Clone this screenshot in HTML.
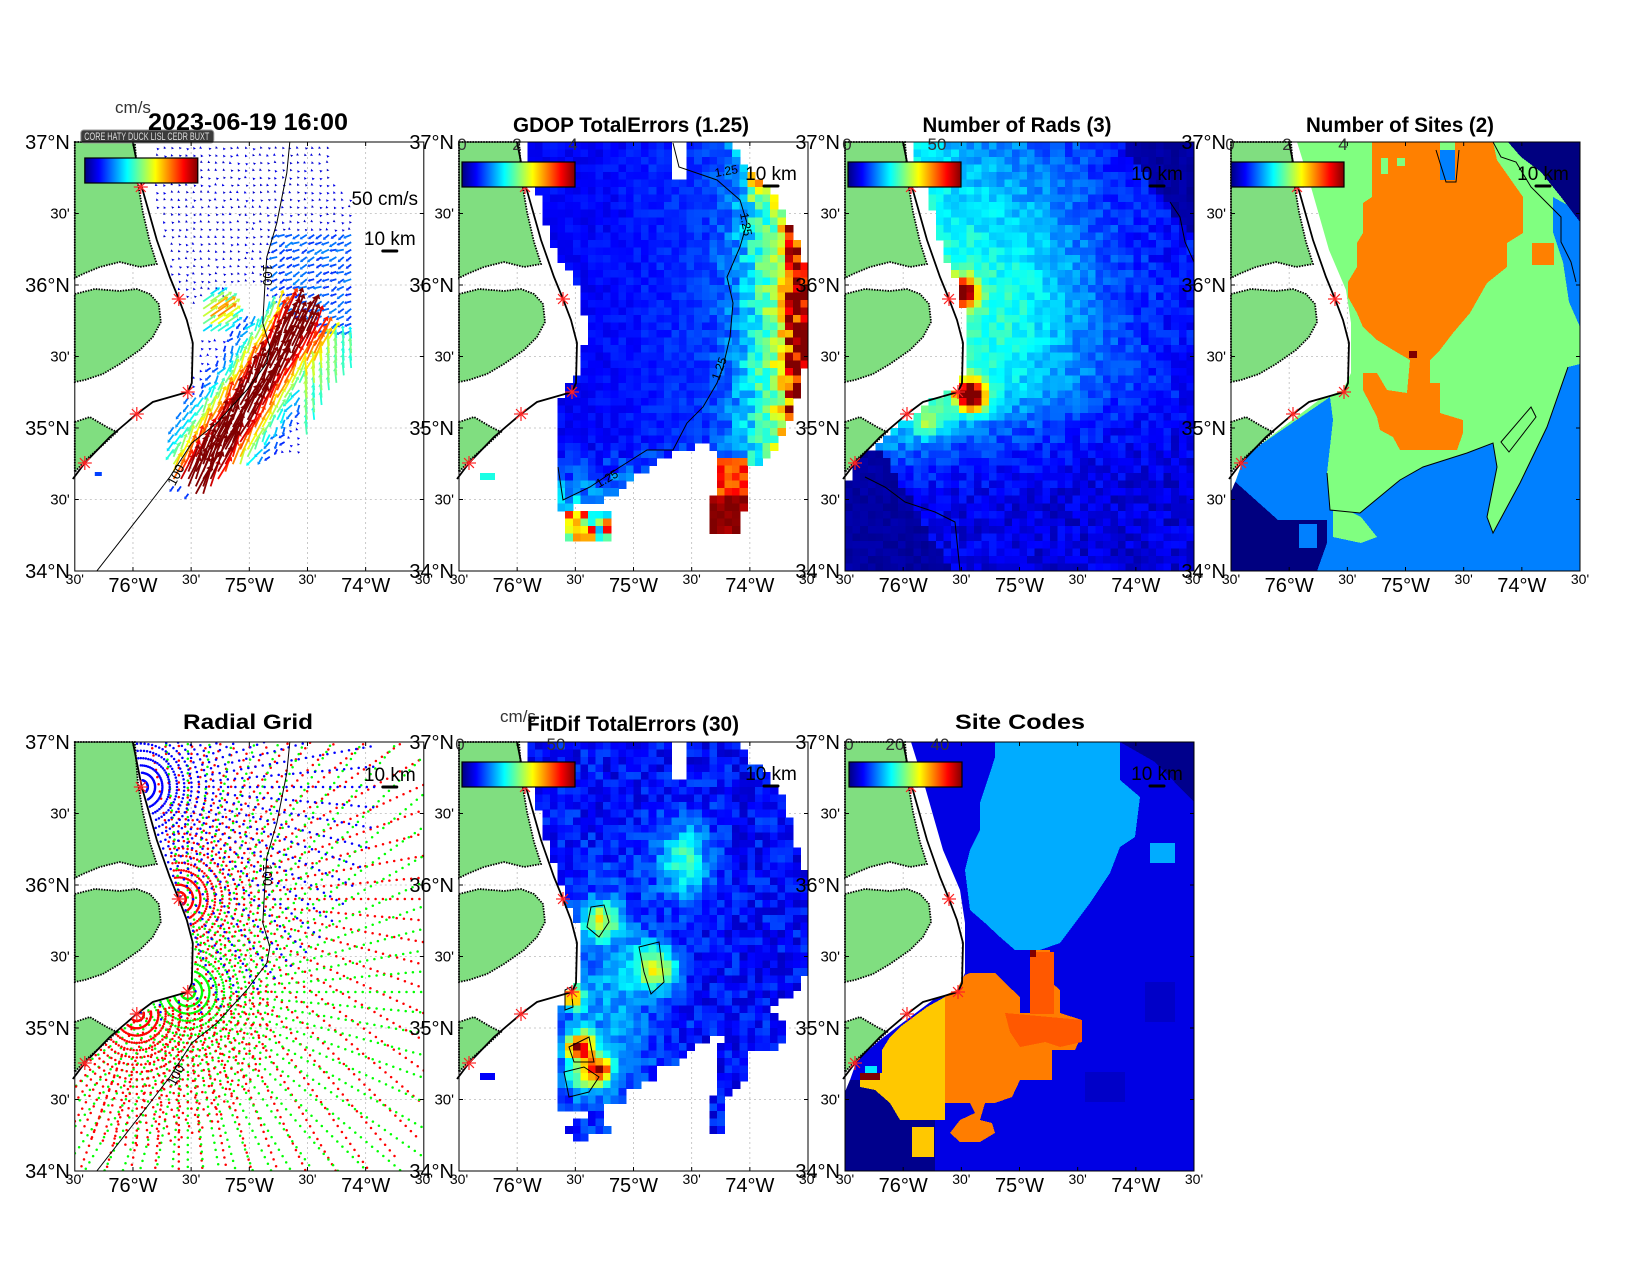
<!DOCTYPE html>
<html><head><meta charset="utf-8"><style>body{margin:0;background:#fff}svg{display:block}</style></head>
<body>
<svg id="s" width="1650" height="1275" xmlns="http://www.w3.org/2000/svg" font-family="Liberation Sans, Arial, sans-serif"></svg>
<script>
const W=349,H=429;
function cl(v){return v<0?0:v>1?1:v}
function jet(t){t=cl(t);const r=cl(Math.min(4*t-1.5,-4*t+4.5)),g=cl(Math.min(4*t-0.5,-4*t+3.5)),b=cl(Math.min(4*t+0.5,-4*t+2.5));return 'rgb('+Math.round(r*255)+','+Math.round(g*255)+','+Math.round(b*255)+')'}
function pip(x,y,P){let c=false;for(let i=0,j=P.length-1;i<P.length;j=i++){const xi=P[i][0],yi=P[i][1],xj=P[j][0],yj=P[j][1];if(((yi>y)!=(yj>y))&&(x<(xj-xi)*(y-yi)/(yj-yi)+xi))c=!c}return c}
function interp(L,y){if(y<=L[0][1])return L[0][0];for(let i=0;i<L.length-1;i++){const a=L[i],b=L[i+1];if(y>=a[1]&&y<=b[1])return a[0]+(b[0]-a[0])*(y-a[1])/((b[1]-a[1])||1)}return L[L.length-1][0]}
function rnd(i,j,k){let h=Math.sin(i*127.1+j*311.7+k*74.7)*43758.5453;return h-Math.floor(h)}
const pts=P=>P.map(p=>p[0].toFixed(1)+','+p[1].toFixed(1)).join(' ');
const L=[[66,0],[80,45],[98,108],[115,148],[120,181],[120,231],[112,248],[88,258],[52,285],[35,298],[12,318],[5,338],[0,350],[0,429]];
const SEA=L.concat([[349,429],[349,0]]);
const C=[[58,0],[67,45],[82,98],[95,135],[104,157],[112,178],[118,201],[117,241],[113,250],[78,260],[62,272],[35,295],[10,321],[-2,337]];
const C100=[[215,0],[212,31],[202,81],[192,115],[190,145],[188,181],[195,205],[192,221],[172,248],[142,281],[117,301],[95,335],[72,365],[22,429]];
const LAND=[
[[0,0],[60,0],[63,40],[68,70],[75,100],[82,122],[65,125],[45,120],[25,125],[8,132],[0,136]],
[[0,152],[20,147],[45,149],[62,147],[75,152],[84,162],[86,180],[78,195],[65,208],[45,222],[28,232],[10,238],[0,240]],
[[0,280],[15,275],[32,285],[42,290],[28,303],[12,317],[0,330]]];
const STARS=[[66,45],[104,157],[113,250],[62,272],[10,321]];
const PAN=[[74.8,142],[459,142],[845,142],[1231,142],[74.8,742],[459,742],[845,742]];
let o='<defs><clipPath id="c"><rect width="349" height="429"/></clipPath><clipPath id="sea"><polygon points="'+pts(SEA)+'"/></clipPath><linearGradient id="jg">';
for(let i=0;i<=16;i++)o+='<stop offset="'+(i/16)+'" stop-color="'+jet(i/16)+'"/>';
o+='</linearGradient></defs>';
const NX=46,NY=57,cw=W/NX,ch=H/NY;
function heat(fn,range){let s='';for(let i=0;i<NX;i++)for(let j=0;j<NY;j++){const x=(i+.5)*cw,y=(j+.5)*ch;const v=fn(x,y,i,j);if(v==null)continue;s+='<rect x="'+(i*cw).toFixed(1)+'" y="'+(j*ch).toFixed(1)+'" width="'+(cw+.6).toFixed(1)+'" height="'+(ch+.6).toFixed(1)+'" fill="'+jet(v/range)+'"/>'}return '<g shape-rendering="crispEdges">'+s+'</g>'}
function grid(){let s='<g stroke="#bbb" stroke-width="0.8" stroke-dasharray="2,3">';for(let k=1;k<6;k++){s+='<line x1="0" x2="349" y1="'+(71.5*k)+'" y2="'+(71.5*k)+'"/><line y1="0" y2="429" x1="'+(58.17*k)+'" x2="'+(58.17*k)+'"/>'}return s+'</g>'}
function land(){let s='';LAND.forEach(P=>{s+='<polygon points="'+pts(P)+'" fill="#80de80" stroke="#000" stroke-width="1.8" stroke-dasharray="1.5,1.2"/>'});s+='<polyline points="'+pts(C)+'" fill="none" stroke="#000" stroke-width="1.8"/>';return s}
function stars(){let s='<g stroke="#f22" stroke-width="1.2">';STARS.forEach(([x,y])=>{for(let a=0;a<4;a++){const t=a*Math.PI/4,dx=7*Math.cos(t),dy=7*Math.sin(t);s+='<line x1="'+(x-dx)+'" y1="'+(y-dy)+'" x2="'+(x+dx)+'" y2="'+(y+dy)+'"/>'}});return s+'</g>'}
function cbar(x,y,ticks){let s='<rect x="'+x+'" y="'+y+'" width="113" height="25" fill="url(#jg)" stroke="#000" stroke-width="1.2"/>';ticks.forEach(t=>{s+='<text x="'+t[1]+'" y="8" font-size="17" fill="#333" text-anchor="middle">'+t[0]+'</text>'});return s}
function km(tx,ty){return '<text x="'+tx+'" y="'+ty+'" font-size="19" text-anchor="middle">10 km</text><line x1="'+(tx-7)+'" x2="'+(tx+7)+'" y1="'+(ty+6)+'" y2="'+(ty+6)+'" stroke="#000" stroke-width="3" stroke-linecap="round"/>'}
function axes(){let s='<rect width="349" height="429" fill="none" stroke="#000" stroke-width="1"/><g stroke="#000" stroke-width="1">';
for(let k=1;k<6;k++){const a=71.5*k,b=58.17*k;s+='<line x1="0" x2="4" y1="'+a+'" y2="'+a+'"/><line x1="345" x2="349" y1="'+a+'" y2="'+a+'"/><line y1="425" y2="429" x1="'+b+'" x2="'+b+'"/><line y1="0" y2="4" x1="'+b+'" x2="'+b+'"/>'}
s+='</g>';const lat=['37°N','36°N','35°N','34°N'],lon=['76°W','75°W','74°W'];
for(let k=0;k<=6;k++){const y=71.5*k;if(k%2==0)s+='<text x="-5" y="'+(y+7)+'" font-size="20" text-anchor="end">'+lat[k/2]+'</text>';else s+='<text x="-5" y="'+(y+5)+'" font-size="15" text-anchor="end">30\'</text>';
const x=58.17*k;if(k%2==1)s+='<text x="'+x+'" y="450" font-size="20" text-anchor="middle">'+lon[(k-1)/2]+'</text>';else s+='<text x="'+x+'" y="442" font-size="14" text-anchor="middle">30\'</text>'}
return s}
function title(x,y,w,t,fs){return '<text x="'+x+'" y="'+y+'" font-size="'+(fs||21)+'" font-weight="bold" text-anchor="middle" textLength="'+w+'" lengthAdjust="spacingAndGlyphs">'+t+'</text>'}
function contour(P){return '<polyline points="'+pts(P)+'" fill="none" stroke="#000" stroke-width="1"/>'}
const sea=(x,y)=>x>=interp(L,y);

// ---------- Panel 1: vectors
(function(){const[x0,y0]=PAN[0];let s='<g transform="translate('+x0+','+y0+')">'+grid()+'<g clip-path="url(#c)">';
const R=[[82,1],[258,1],[258,38],[278,51],[278,128],[283,148],[283,221],[265,241],[245,268],[225,308],[158,325],[125,355],[95,348],[98,281],[118,248],[125,205],[125,165],[100,140],[92,100],[80,50]];
const ax=125,ay=335,bx=222,by=185,dx=bx-ax,dy=by-ay,Lb=Math.hypot(dx,dy),ux=dx/Lb,uy=dy/Lb,ba=Math.atan2(uy,ux);
let arr=[];
for(let x=84;x<290;x+=7.4)for(let y=4;y<360;y+=7.4){if(!pip(x,y,R))continue;if(x>158&&x<195&&y>138&&y<172)continue;
const t=((x-ax)*ux+(y-ay)*uy)/Lb,d=Math.abs((x-ax)*(-uy)+(y-ay)*ux);let core=Math.exp(-d*d/(2*22*22))*(t>-0.1&&t<1.05?1:0);
let c2=Math.exp(-((x-140)**2+(y-172)**2)/(2*14*14));
let s0=5+rnd(x,y,1)*4,a0=Math.PI*(0.55+rnd(x,y,2)*0.3);
if(x>200&&y>90&&y<200){s0=14+rnd(x,y,3)*8;a0=Math.PI*(0.75+rnd(x,y,4)*0.2)}
if(x>225&&y>195){s0=30+rnd(x,y,5)*12;a0=-Math.PI/2-0.1}
if(y>250&&x<130){s0=15;a0=Math.PI*0.7}
let sp=s0*(1-core)+95*core,an=core>0.3?ba-0.15+(rnd(x,y,6)-.5)*0.3:a0;
if(c2>0.3){sp=Math.max(sp,55*c2+10);an=-0.6}
arr.push([x,y,sp,an])}
arr.sort((a,b)=>a[2]-b[2]);
arr.forEach(([x,y,sp,an])=>{const len=Math.max(1.5,sp*0.3),ex=x+Math.cos(an)*len,ey=y+Math.sin(an)*len,col=jet(sp/85),hs=Math.min(4.5,2+len*0.1);
const hx=Math.cos(an),hy=Math.sin(an);
if(len>4)s+='<line x1="'+x.toFixed(1)+'" y1="'+y.toFixed(1)+'" x2="'+ex.toFixed(1)+'" y2="'+ey.toFixed(1)+'" stroke="'+col+'" stroke-width="1.8"/>';
s+='<polygon points="'+(ex+hx*hs).toFixed(1)+','+(ey+hy*hs).toFixed(1)+' '+(ex-hy*hs*0.7).toFixed(1)+','+(ey+hx*hs*0.7).toFixed(1)+' '+(ex+hy*hs*0.7).toFixed(1)+','+(ey-hx*hs*0.7).toFixed(1)+'" fill="'+col+'"/>'});
s+='<rect x="20" y="330" width="7" height="4" fill="#0040ff"/>';
s+=contour(C100)+'</g>'+land()+stars()+'<text transform="translate(188,133) rotate(90)" font-size="13" text-anchor="middle">100</text><text transform="translate(105,335) rotate(-62)" font-size="13" text-anchor="middle">100</text>';
s+=cbar(10,16,[])+'<rect x="6" y="-12" width="133" height="13" rx="3" fill="#3c3c3c" stroke="#999"/><text x="72" y="-2" font-size="11" fill="#ddd" text-anchor="middle" textLength="125" lengthAdjust="spacingAndGlyphs">CORE HATY DUCK LISL CEDR BUXT</text>';
s+='<text x="310" y="63" font-size="19" text-anchor="middle">50 cm/s</text>'+km(315,103)+axes()+'</g>';
s+='<text x="133" y="113" font-size="17" fill="#333" text-anchor="middle">cm/s</text>'+title(248,130,200,'2023-06-19 16:00',24);o+=s})();

// ---------- Panel 2: GDOP
(function(){const[x0,y0]=PAN[1];let s='<g transform="translate('+x0+','+y0+')">'+grid()+'<g clip-path="url(#c)">';
const M=[[68,0],[211,0],[211,36],[228,36],[228,0],[264,0],[273,6],[289,25],[314,48],[328,75],[343,105],[346,125],[346,221],[341,248],[334,268],[318,308],[298,321],[281,325],[244,301],[208,315],[168,341],[158,355],[128,361],[98,368],[98,321],[98,278],[104,248],[118,235],[128,188],[121,148],[108,128],[91,95],[81,55],[71,28]];
const T=[[258,318],[288,318],[288,360],[277,395],[255,395],[248,375],[258,340]];
const I=[[108,371],[148,371],[148,398],[108,398]];
s+=heat((x,y,i,j)=>{const n=rnd(i,j,9)-.5;if(pip(x,y,T))return 3.3+(y>355?0.7:0)+n*0.6;if(pip(x,y,I))return 2.4+n*2.5;if(!pip(x,y,M))return null;
const a=(x-240)/105,b=(y-290)/75;const c=Math.max(a,b*0.6,0);const edge=(x>330||(y<60&&x>290))?0.8:0;return 0.5+0.3*cl((x-140)/150)+2.6*Math.pow(c,2)+edge*(1+n)+n*0.25*(1+c*4)},4);
s+='<rect x="21" y="331" width="15" height="7" fill="'+jet(0.4)+'"/>';
s+=contour([[214,1],[220,25],[258,38],[281,58],[288,81],[281,105],[268,135],[274,161],[271,195],[264,225],[258,241],[244,265],[228,281],[214,308],[188,308],[161,325],[131,345],[104,358],[99,325]])+'</g>'+land()+stars();
s+='<text transform="translate(268,33) rotate(-10)" font-size="12" text-anchor="middle">1.25</text><text transform="translate(283,83) rotate(80)" font-size="12" text-anchor="middle">1.25</text><text transform="translate(264,228) rotate(-70)" font-size="12" text-anchor="middle">1.25</text><text transform="translate(150,340) rotate(-30)" font-size="12" text-anchor="middle">1.25</text>';
s+=cbar(3,20,[['0',3],['2',58],['4',114]])+km(312,38)+axes()+'</g>'+title(631,132,236,'GDOP TotalErrors (1.25)');o+=s})();

// ---------- Panel 3: Number of rads
(function(){const[x0,y0]=PAN[2];let s='<g transform="translate('+x0+','+y0+')">'+grid()+'<g clip-path="url(#c)">';
s+=heat((x,y,i,j)=>{if(!sea(x,y))return null;const n=rnd(i,j,3)-.5;const d=x-interp(L,y);
if(y>300&&x<30+(y-300)*0.6)return 2+n*2;if(x>275&&y<(x-275)*1.3)return 2+n*2;
const g=y<270?1:Math.max(0.15,1-(y-270)/110);let v=5+17*Math.exp(-d/140)*g;
v+=7*Math.exp(-((x-175)**2/(2*55*55)+(y-150)**2/(2*90*90)))*g;
v+=45*Math.exp(-((x-118)**2+(y-150)**2)/(2*10*10))+50*Math.exp(-((x-126)**2+(y-254)**2)/(2*11*11))+15*Math.exp(-((x-84)**2+(y-280)**2)/(2*11*11));
return v+n*6},60);
s+='<polyline points="325,60 335,75 340,100 349,120" fill="none" stroke="#000"/><polyline points="20,335 40,345 60,360 90,370 110,380 115,429" fill="none" stroke="#000"/></g>'+land()+stars()+cbar(3,20,[['0',2],['50',92]])+km(312,38)+axes()+'</g>'+title(1017,132,189,'Number of Rads (3)');o+=s})();

// ---------- Panel 4: Number of sites
(function(){const[x0,y0]=PAN[3];let s='<g transform="translate('+x0+','+y0+')">'+grid()+'<g clip-path="url(#c)"><g clip-path="url(#sea)" shape-rendering="crispEdges">';
const G='rgb(128,255,128)',Or='rgb(255,128,0)',B='rgb(0,128,255)',N='rgb(0,0,128)';
s+='<rect width="349" height="429" fill="'+G+'"/>';
s+='<polygon fill="'+B+'" points="'+pts([[0,340],[0,300],[32,301],[99,255],[102,278],[96,331],[99,368],[129,371],[169,338],[192,325],[236,311],[262,301],[266,325],[256,375],[262,391],[289,341],[316,285],[337,225],[349,222],[349,429],[0,429]])+'"/>';
s+='<polygon fill="'+G+'" points="'+pts([[102,361],[130,375],[146,395],[130,401],[102,395]])+'"/>';
s+='<polygon fill="'+B+'" points="'+pts([[322,55],[349,70],[349,185],[338,160],[332,120],[322,90]])+'"/>';
s+='<polygon fill="'+N+'" points="'+pts([[277,0],[349,0],[349,80],[330,55],[310,30],[290,15]])+'"/>';
s+='<polygon fill="'+N+'" points="'+pts([[0,336],[47,378],[96,378],[96,401],[86,429],[0,429]])+'"/>';
s+='<rect x="68" y="382" width="18" height="24" fill="'+B+'"/>';
s+='<polygon fill="'+Or+'" points="'+pts([[141,0],[209,0],[209,8],[224,8],[224,0],[262,0],[266,18],[292,55],[292,91],[276,101],[276,125],[256,141],[239,171],[222,191],[209,208],[199,218],[199,241],[209,241],[209,271],[232,278],[232,291],[226,308],[169,308],[162,295],[149,288],[146,275],[132,248],[132,231],[146,231],[156,248],[176,251],[179,218],[162,208],[146,198],[132,185],[126,171],[117,155],[117,140],[126,125],[126,101],[132,91],[132,61],[141,55]])+'"/>';
s+='<rect x="209" y="8" width="15" height="30" fill="'+B+'"/><rect x="301" y="101" width="22" height="22" fill="'+Or+'"/><rect x="178" y="209" width="8" height="7" fill="rgb(128,0,0)"/>';
s+='<rect x="166" y="16" width="8" height="8" fill="'+G+'"/><rect x="150" y="16" width="7" height="16" fill="'+G+'"/>';
s+='</g><polyline points="205,8 215,40 225,40 228,8" fill="none" stroke="#000"/><polyline points="262,0 270,15 285,20 300,45 315,60 330,75 330,100 340,120 345,140" fill="none" stroke="#000"/><polyline points="96,331 99,368 129,371 169,338 192,325 236,311 262,301 266,325 256,375 262,391 289,341 316,285 337,225" fill="none" stroke="#000"/><polygon points="270,300 300,265 305,275 278,310" fill="none" stroke="#000"/></g>';
s+=land()+stars()+cbar(0,20,[['0',-1],['2',56],['4',112]])+km(312,38)+axes()+'</g>'+title(1400,132,188,'Number of Sites (2)');o+=s})();

// ---------- Panel 5: Radial grid
(function(){const[x0,y0]=PAN[4];let s='<g transform="translate('+x0+','+y0+')">'+grid()+'<g clip-path="url(#c)">';
const sites=[[STARS[1],'#f00',-100,110,340],[STARS[2],'#0f0',-95,175,340],[STARS[0],'#00f',-110,100,235],[STARS[3],'#f00',-10,170,135]];
sites.forEach(([p,col,a1,a2,rm])=>{s+='<g fill="'+col+'">';for(let r=7;r<=rm;r+=7.3)for(let a=a1;a<=a2;a+=5){const t=a*Math.PI/180,x=p[0]+r*Math.cos(t),y=p[1]+r*Math.sin(t);if(x<0||x>349||y<0||y>429)continue;if(y<337&&x<interp(C,y)+2)continue;s+='<circle cx="'+x.toFixed(1)+'" cy="'+y.toFixed(1)+'" r="1.25"/>'}s+='</g>'});
s+=contour(C100)+'</g>'+land()+stars()+'<text transform="translate(188,133) rotate(90)" font-size="13" text-anchor="middle">100</text><text transform="translate(105,335) rotate(-62)" font-size="13" text-anchor="middle">100</text>';
s+=km(315,39)+axes()+'</g>'+title(248,729,130,'Radial Grid');o+=s})();

// ---------- Panel 6: FitDif
(function(){const[x0,y0]=PAN[5];let s='<g transform="translate('+x0+','+y0+')">'+grid()+'<g clip-path="url(#c)">';
const M=[[68,0],[214,0],[214,38],[226,38],[226,0],[274,0],[281,6],[291,18],[311,35],[326,61],[336,88],[339,121],[349,135],[349,225],[336,248],[309,268],[326,285],[321,308],[276,308],[261,295],[241,301],[226,318],[196,325],[196,340],[174,345],[161,361],[141,361],[151,391],[116,398],[106,385],[129,371],[99,368],[99,278],[106,248],[119,241],[119,181],[109,161],[101,135],[84,91],[76,55]];
const S2=[[255,300],[290,300],[290,340],[270,345],[265,392],[250,392],[255,345]];
const hs=[[141,178,24,13],[196,225,26,15],[121,305,45,10],[141,328,36,9],[113,255,34,8],[125,335,18,13]];
s+=heat((x,y,i,j)=>{if(!(pip(x,y,M)||pip(x,y,S2)))return null;const n=rnd(i,j,5);let v=4+n*8;
v+=17*Math.exp(-((x-225)**2/(2*18*18)+(y-118)**2/(2*26*26)));v+=9*Math.exp(-((x-150)**2/(2*35*35)+(y-260)**2/(2*75*75)));
hs.forEach(h=>{v+=h[2]*Math.exp(-((x-h[0])**2+(y-h[1])**2)/(2*h[3]*h[3]))});return v},60);
s+='<rect x="21" y="331" width="15" height="7" fill="'+jet(0.12)+'"/>';
s+='<g fill="none" stroke="#000"><polygon points="132,165 145,163 150,180 140,195 128,185"/><polygon points="180,205 200,200 205,240 192,252 185,230"/><polygon points="110,305 130,295 135,320 115,320"/><polygon points="105,330 125,325 140,335 130,350 110,355"/><polygon points="106,248 112,245 114,265 106,268"/></g></g>';
s+=land()+stars()+cbar(3,20,[['0',1],['50',97]])+km(312,38)+axes()+'</g>'+'<text x="518" y="722" font-size="17" fill="#333" text-anchor="middle">cm/s</text>'+title(633,731,212,'FitDif TotalErrors (30)');o+=s})();

// ---------- Panel 7: Site codes
(function(){const[x0,y0]=PAN[6];let s='<g transform="translate('+x0+','+y0+')">'+grid()+'<g clip-path="url(#c)"><g clip-path="url(#sea)" shape-rendering="crispEdges">';
const LB='rgb(0,172,255)',BL='rgb(0,0,228)',N='rgb(0,0,140)',Or='rgb(255,125,0)',RO='rgb(255,88,0)',Y='rgb(255,200,0)';
s+='<rect width="349" height="429" fill="'+BL+'"/>';
s+='<polygon fill="'+N+'" points="'+pts([[275,0],[349,0],[349,60],[310,20]])+'"/>';
s+='<polygon fill="'+N+'" points="'+pts([[0,338],[90,338],[90,429],[0,429]])+'"/>';
s+='<rect x="240" y="330" width="40" height="30" fill="rgb(0,0,200)"/><rect x="300" y="240" width="30" height="40" fill="rgb(0,0,200)"/>';
s+='<polygon fill="'+LB+'" points="'+pts([[150,0],[275,0],[275,38],[295,55],[290,95],[275,105],[265,131],[245,161],[230,181],[215,201],[195,208],[170,208],[155,195],[140,181],[125,168],[120,128],[125,108],[135,88],[135,61],[145,31],[150,15]])+'"/>';
s+='<rect x="305" y="101" width="25" height="20" fill="'+LB+'"/>';
s+='<polygon fill="'+Or+'" points="'+pts([[125,231],[150,231],[160,241],[175,255],[175,271],[185,271],[185,208],[205,208],[207,241],[215,248],[215,271],[237,278],[237,293],[230,308],[207,308],[207,338],[175,338],[167,355],[150,361],[140,361],[135,378],[147,381],[150,391],[135,400],[115,400],[105,391],[115,378],[130,371],[125,361],[100,361],[100,255],[120,233]])+'"/>';
s+='<rect x="185" y="210" width="24" height="62" fill="'+RO+'"/><polygon fill="'+RO+'" points="'+pts([[160,271],[237,278],[237,300],[215,305],[200,300],[175,305],[165,290]])+'"/>';
s+='<polygon fill="'+Y+'" points="'+pts([[100,255],[82,265],[55,285],[45,295],[37,308],[37,331],[15,331],[15,345],[30,348],[45,361],[55,378],[100,378]])+'"/>';
s+='<rect x="67" y="385" width="22" height="30" fill="'+Y+'"/><rect x="185" y="208" width="6" height="7" fill="rgb(128,0,0)"/><rect x="15" y="331" width="20" height="7" fill="rgb(128,0,0)"/><rect x="20" y="324" width="12" height="7" fill="rgb(0,230,255)"/>';
s+='</g></g>'+land()+stars()+cbar(4,20,[['0',4],['20',50],['40',95]])+km(312,38)+axes()+'</g>'+title(1020,729,130,'Site Codes');o+=s})();

document.getElementById('s').innerHTML=o;
</script>
</body></html>
